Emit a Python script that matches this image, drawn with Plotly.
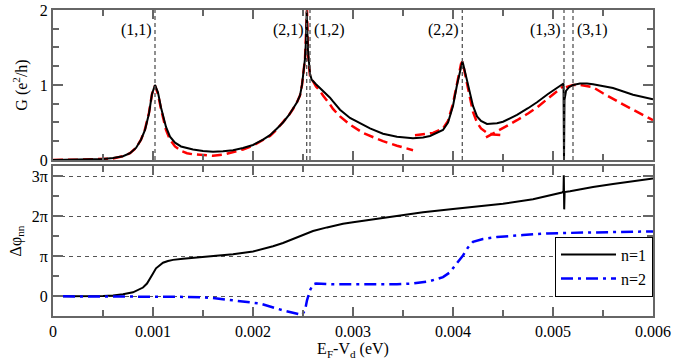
import plotly.graph_objects as go
from plotly.subplots import make_subplots

# conductance, top panel (x in eV, G in e^2/h)
g_x = [0, 0.0002, 0.0004, 0.0005, 0.0006, 0.0007, 0.00077, 0.00083, 0.00088, 0.00092, 0.00096, 0.00099,
       0.00102, 0.00105, 0.00108, 0.0011, 0.00113, 0.00117, 0.00122, 0.00128, 0.00134, 0.0014, 0.0015,
       0.0016, 0.0017, 0.0018, 0.0019, 0.002, 0.0021, 0.00217, 0.00224, 0.0023, 0.00236, 0.0024, 0.00244,
       0.00247, 0.00249, 0.00252, 0.00253, 0.002537, 0.002545, 0.00255, 0.00257, 0.002587, 0.00263, 0.00267,
       0.0027, 0.00277, 0.0028, 0.00287, 0.00297, 0.0031, 0.00317, 0.0033, 0.00344, 0.0036, 0.0037,
       0.00377, 0.0039, 0.00395, 0.004, 0.00404, 0.00408, 0.004093, 0.0041, 0.00414, 0.00417, 0.0042,
       0.00424, 0.00428, 0.00434, 0.0044, 0.00444, 0.0045, 0.00464, 0.00475, 0.00484, 0.00495, 0.00505,
       0.0051, 0.005105, 0.00511, 0.005115, 0.00513, 0.00516, 0.0052, 0.00527, 0.00534, 0.0054, 0.0056,
       0.0058, 0.006]
g_black = [0.0, 0.003, 0.008, 0.012, 0.025, 0.05, 0.09, 0.16, 0.27, 0.40, 0.62, 0.88,
           1.0, 0.90, 0.70, 0.58, 0.44, 0.31, 0.23, 0.18, 0.155, 0.14, 0.12,
           0.11, 0.115, 0.13, 0.16, 0.2, 0.27, 0.33, 0.42, 0.5, 0.6, 0.68, 0.77,
           0.86, 1.0, 1.35, 1.6, 1.98, 1.7, 1.45, 1.15, 1.07, 1.01, 0.96,
           0.92, 0.83, 0.78, 0.67, 0.56, 0.47, 0.42, 0.35, 0.31, 0.29, 0.3,
           0.32, 0.4, 0.5, 0.72, 1.0, 1.27, 1.31, 1.29, 1.05, 0.88, 0.72,
           0.58, 0.52, 0.48, 0.48, 0.49, 0.51, 0.6, 0.69, 0.77, 0.88, 0.97,
           1.02, 1.02, 0.0, 0.8, 0.92, 0.97, 1.0, 1.02, 1.02, 1.01, 0.96,
           0.87, 0.81]

# red dashed approximation, split in pieces (None = gap)
r_x = [0, 0.0003, 0.0006, 0.0007, 0.00077, 0.00083, 0.00088, 0.00092, 0.00096, 0.00099, 0.00102, 0.00105,
       0.00108, 0.0011, 0.00113, 0.00117, 0.00122, 0.00128, 0.00134, 0.0014, 0.0015, 0.0016, 0.0017,
       0.0018, 0.0019, 0.002, 0.0021, 0.00217, 0.00224, 0.0023, 0.00236, 0.0024, 0.00244, 0.00247,
       0.00249, 0.00252, 0.00253, 0.00254, 0.002545, 0.00255, 0.00257, 0.0026, 0.00263, 0.00267, 0.0027,
       0.00277, 0.0028, 0.00287, 0.00297, 0.0031, 0.00317, 0.0033, 0.00344, 0.0036, None,
       0.00362, 0.0037, 0.0038, 0.0039, 0.00395, 0.004, 0.00404, 0.00408, 0.004093, 0.0041, 0.00414,
       0.00417, 0.0042, 0.00424, 0.00428, 0.00434, 0.0044, 0.0045, None,
       0.00433, 0.0044, 0.0045, 0.00464, 0.00475, 0.00484, 0.00495, 0.00505, 0.0051, None,
       0.00513, 0.0052, 0.00527, 0.00534, 0.0054, 0.0055, 0.0056, 0.0057, 0.0058, 0.0059, 0.006]
g_red = [0, 0.005, 0.02, 0.05, 0.09, 0.16, 0.27, 0.41, 0.63, 0.88, 0.99, 0.88,
         0.68, 0.55, 0.4, 0.27, 0.18, 0.12, 0.09, 0.075, 0.06, 0.055, 0.07,
         0.1, 0.14, 0.19, 0.26, 0.32, 0.41, 0.5, 0.6, 0.68, 0.77, 0.86,
         1.0, 1.35, 1.6, 2.0, 1.7, 1.4, 1.12, 1.04, 0.98, 0.92, 0.86,
         0.74, 0.68, 0.58, 0.47, 0.36, 0.32, 0.25, 0.19, 0.13, None,
         0.33, 0.34, 0.36, 0.42, 0.52, 0.75, 1.03, 1.28, 1.31, 1.28, 1.02,
         0.82, 0.64, 0.5, 0.42, 0.36, 0.34, 0.33, None,
         0.3, 0.35, 0.42, 0.53, 0.62, 0.7, 0.82, 0.93, 0.98, None,
         0.97, 1.0, 1.0, 0.98, 0.97, 0.89, 0.81, 0.74, 0.67, 0.6, 0.53]

# phase difference, bottom panel (in units of pi)
p1_x = [0.0001, 0.0003, 0.0005, 0.0006, 0.0007, 0.0008, 0.00085, 0.0009, 0.00094, 0.00097, 0.001, 0.00103,
        0.00107, 0.0011, 0.00115, 0.0012, 0.0013, 0.00147, 0.0016, 0.0018, 0.002, 0.00207, 0.0022, 0.0023,
        0.0024, 0.00254, 0.0026, 0.00274, 0.0028, 0.0029, 0.003, 0.0032, 0.00344, 0.0037, 0.004, 0.0045,
        0.0048, 0.00494, 0.00509, 0.005105, 0.005108, 0.005112, 0.005116, 0.00517, 0.0054, 0.0056,
        0.0058, 0.006]
p1_y = [0, 0.0, 0.01, 0.02, 0.05, 0.1, 0.15, 0.22, 0.32, 0.43, 0.57, 0.7,
        0.79, 0.84, 0.88, 0.91, 0.94, 0.98, 1.0, 1.05, 1.12, 1.16, 1.25, 1.33,
        1.43, 1.57, 1.63, 1.72, 1.76, 1.81, 1.85, 1.92, 2.02, 2.1, 2.18, 2.31,
        2.42, 2.5, 2.59, 2.62, 3.02, 2.17, 2.6, 2.62, 2.73, 2.8,
        2.87, 2.94]
p2_x = [0.0001, 0.0005, 0.001, 0.0012, 0.00147, 0.0016, 0.0018, 0.00207, 0.0023, 0.00247, 0.00249,
        0.00252, 0.00254, 0.00257, 0.0026, 0.00263, 0.0028, 0.0031, 0.00344, 0.0036, 0.00377, 0.0039,
        0.00397, 0.00403, 0.0041, 0.00415, 0.0042, 0.0043, 0.00444, 0.0047, 0.00494, 0.0053, 0.006]
p2_y = [0, 0.0, -0.005, -0.01, -0.02, -0.04, -0.1, -0.18, -0.35, -0.45, -0.46,
        -0.35, -0.1, 0.15, 0.3, 0.32, 0.3, 0.3, 0.3, 0.32, 0.38, 0.48,
        0.6, 0.8, 1.02, 1.22, 1.36, 1.43, 1.48, 1.53, 1.57, 1.59, 1.62]

# resonance positions and labels
res_x = [0.00102, 0.002537, 0.00257, 0.004093, 0.00511, 0.0052]
res_lab = ["(1,1)", "(2,1)", "(1,2)", "(2,2)", "(1,3)", "(3,1)"]
res_side = ["left", "left", "right", "left", "left", "right"]

FONT = "Liberation Serif, Times New Roman, serif"
FRAME = "#666666"

fig = make_subplots(rows=2, cols=1, shared_xaxes=True, vertical_spacing=0.02)

fig.add_trace(go.Scatter(x=r_x, y=g_red, mode="lines", showlegend=False,
                         line=dict(color="#ff0000", width=2.5, dash="10px,5px")), row=1, col=1)
fig.add_trace(go.Scatter(x=g_x, y=g_black, mode="lines", showlegend=False,
                         line=dict(color="black", width=2)), row=1, col=1)

fig.add_trace(go.Scatter(x=p1_x, y=p1_y, mode="lines", name="n=1",
                         line=dict(color="black", width=2)), row=2, col=1)
fig.add_trace(go.Scatter(x=p2_x, y=p2_y, mode="lines", name="n=2",
                         line=dict(color="#0000ff", width=2.5, dash="12px,5px,3px,5px")), row=2, col=1)

for xv, lab, side in zip(res_x, res_lab, res_side):
    fig.add_shape(type="line", x0=xv, x1=xv, y0=0, y1=2, xref="x", yref="y",
                  line=dict(color="#555555", width=1.3, dash="4px,3px"))
    fig.add_annotation(x=xv, y=1.73, xref="x", yref="y", text=lab, showarrow=False,
                       xanchor="right" if side == "left" else "left",
                       xshift=-1 if side == "left" else 2,
                       font=dict(family=FONT, size=16, color="black"))

ax = dict(showline=True, linecolor=FRAME, linewidth=2, mirror="allticks", ticks="inside",
          tickcolor=FRAME, tickwidth=2, zeroline=False, automargin=False,
          tickfont=dict(family=FONT, size=16, color="black"))

fig.update_xaxes(range=[0, 0.006], dtick=0.001, ticklen=9,
                 minor=dict(dtick=0.0005, ticks="inside", ticklen=6, tickcolor=FRAME, tickwidth=2),
                 showgrid=False, **ax)
fig.update_xaxes(showticklabels=False, row=1, col=1)
fig.update_xaxes(tickvals=[0, 0.001, 0.002, 0.003, 0.004, 0.005, 0.006],
                 ticktext=["0", "0.001", "0.002", "0.003", "0.004", "0.005", "0.006"],
                 title=dict(text="E<sub>F</sub>-V<sub>d</sub> (eV)", font=dict(family=FONT, size=16, color="black"),
                            standoff=0),
                 row=2, col=1)

fig.update_yaxes(range=[0, 2], tickvals=[0, 1, 2], ticklen=10, showgrid=False,
                 minor=dict(dtick=0.25, ticks="inside", ticklen=6, tickcolor=FRAME, tickwidth=2),
                 title=dict(text="G (e<sup>2</sup>/h)", font=dict(family=FONT, size=16, color="black"), standoff=8),
                 row=1, col=1, **ax)
fig.update_yaxes(range=[-0.49, 3.25], tickvals=[0, 1, 2, 3], ticktext=["0", "π", "2π", "3π"], ticklen=10,
                 showgrid=True, gridcolor="#555555", griddash="4px,4px", gridwidth=1.3,
                 minor=dict(dtick=0.5, ticks="inside", ticklen=6, tickcolor=FRAME, tickwidth=2),
                 title=dict(text="Δφ<sub>nn</sub>", font=dict(family=FONT, size=16, color="black"), standoff=6),
                 row=2, col=1, **ax)

fig.update_layout(
    width=678, height=364,
    margin=dict(l=53, r=25, t=10, b=48),
    plot_bgcolor="white", paper_bgcolor="white",
    font=dict(family=FONT, size=16, color="black"),
    legend=dict(x=1, xanchor="right", y=0.063, yanchor="bottom", bgcolor="white",
                bordercolor="black", borderwidth=1, font=dict(family=FONT, size=16, color="black"),
                tracegroupgap=0, itemwidth=55),
)
fig.update_yaxes(domain=[0.51, 1.0], row=1, col=1)
fig.update_yaxes(domain=[0.0, 0.49], row=2, col=1)

# page body has a default 8px margin, drop it so the figure fills the window
fig.write_html("out.html", config={"displayModeBar": False},
               post_script="document.body.style.margin='0';")
